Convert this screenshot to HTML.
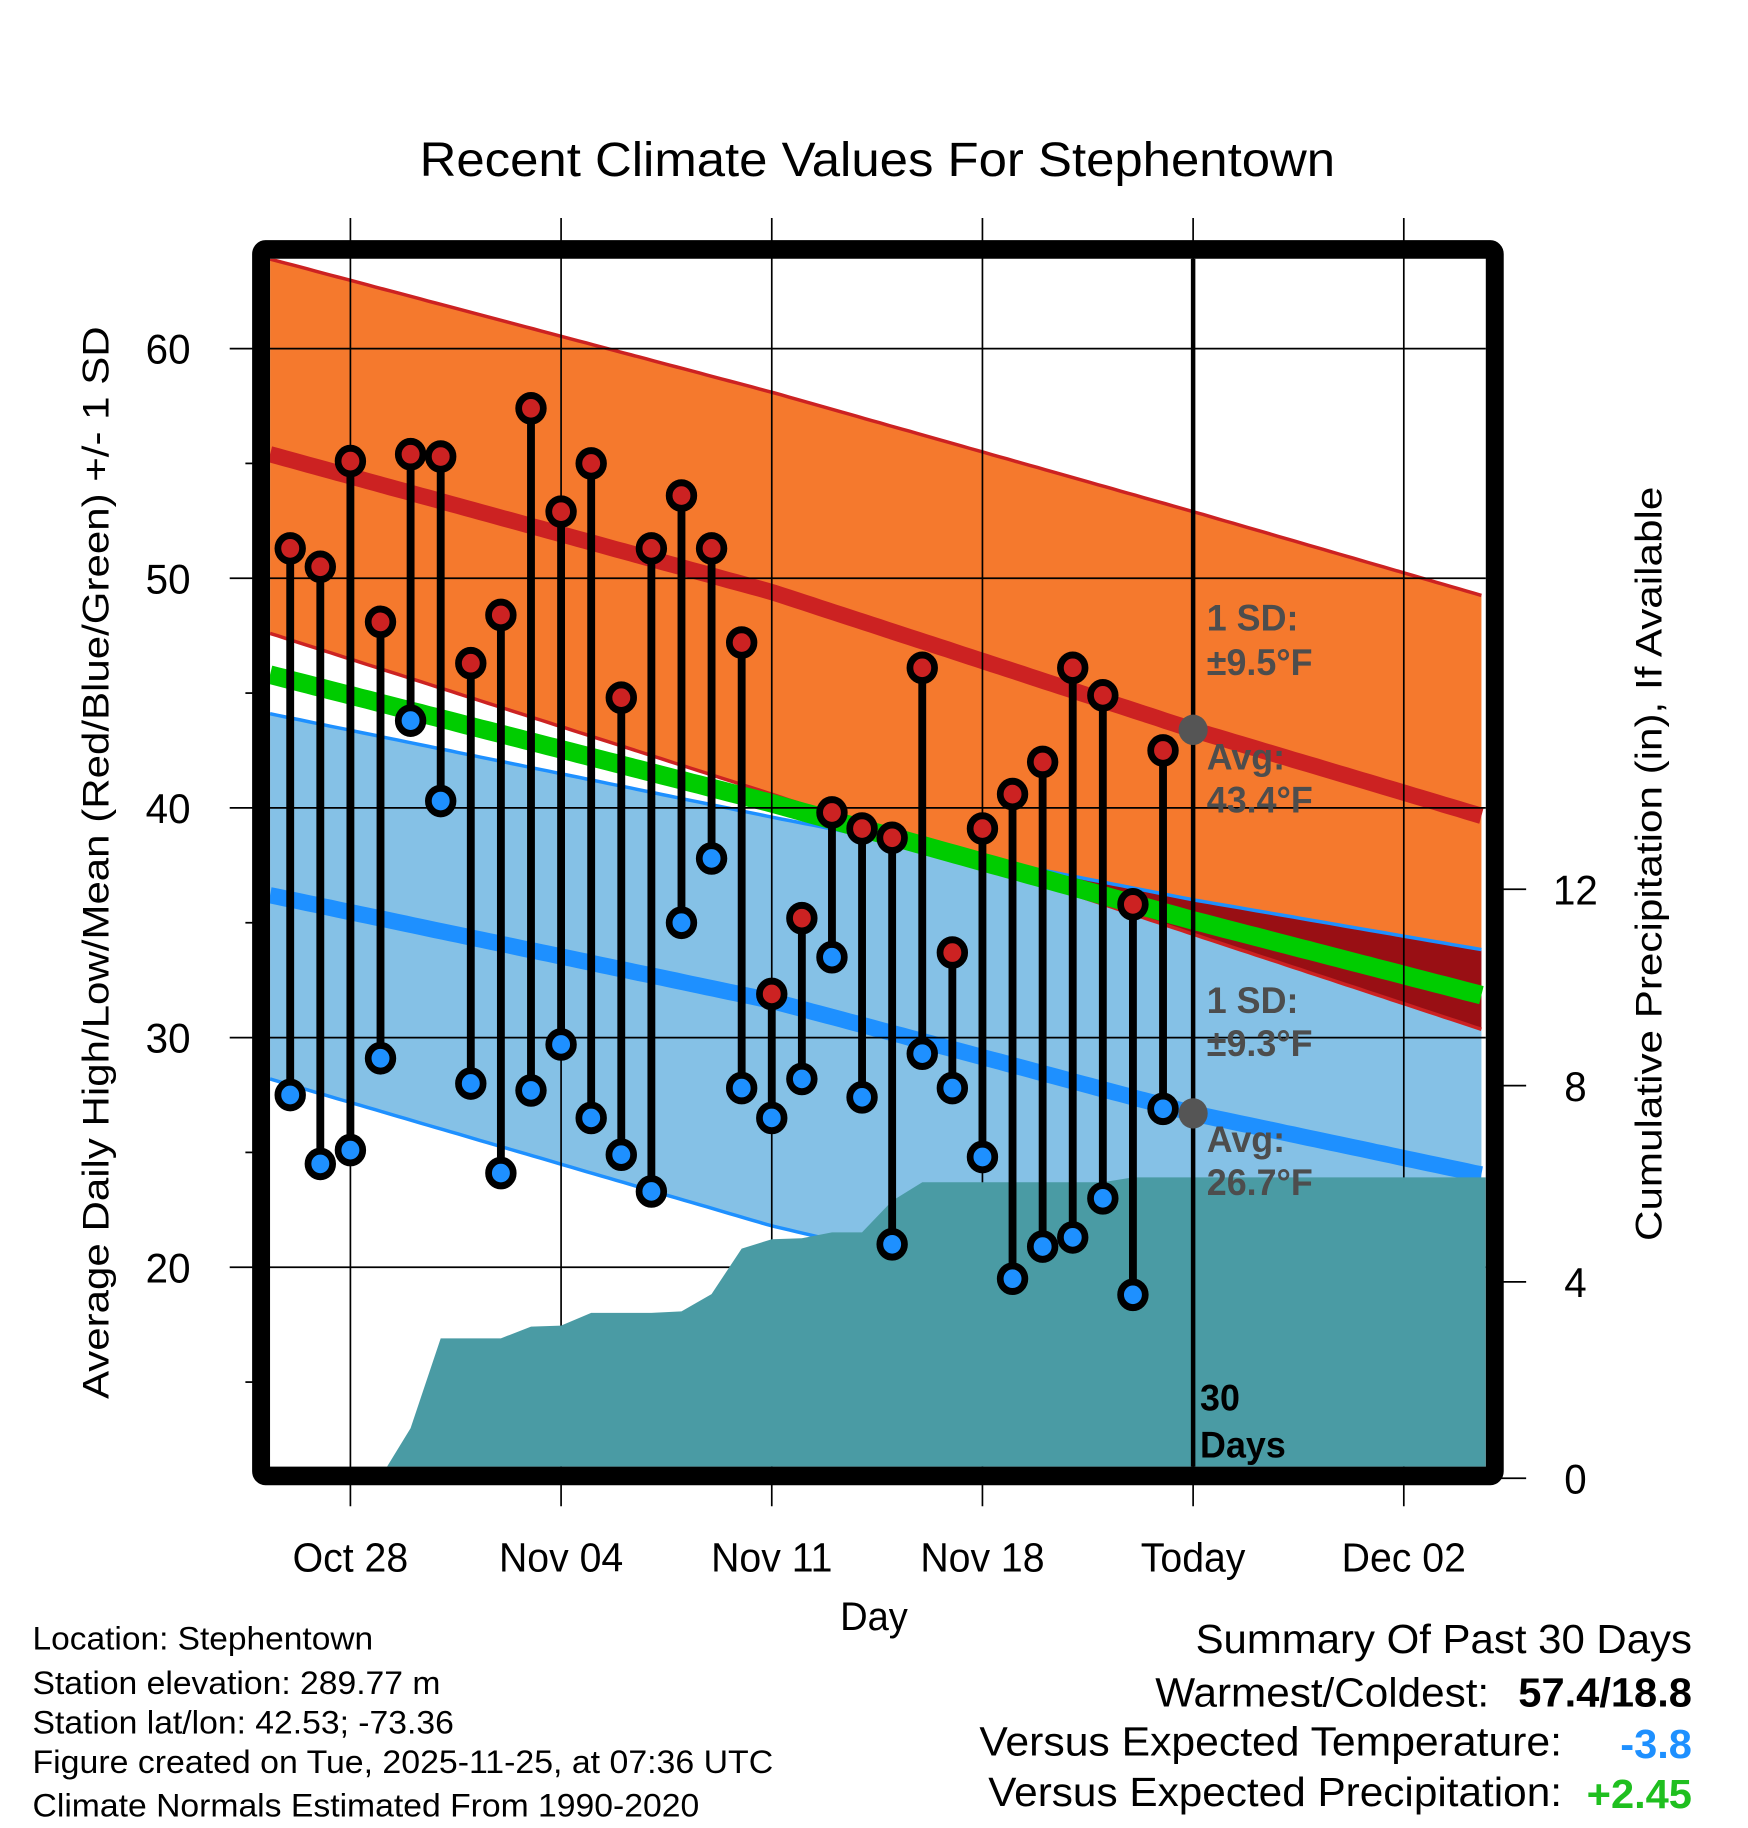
<!DOCTYPE html>
<html><head><meta charset="utf-8"><style>
html,body{margin:0;padding:0;background:#fff}
svg{display:block}
text{font-family:"Liberation Sans",sans-serif}
</style></head><body>
<svg id="chart" width="1748" height="1828" viewBox="0 0 1560 1568" preserveAspectRatio="none" xmlns="http://www.w3.org/2000/svg">
<defs><clipPath id="plotclip"><rect x="241" y="222" width="1085" height="1036"/></clipPath></defs>
<g id="bands" clip-path="url(#plotclip)"></g>
<g id="grid"></g>
<g id="precip" clip-path="url(#plotclip)"></g>
<g id="marks" clip-path="url(#plotclip)"></g>
<g id="ann"></g>
<rect x="233" y="214" width="1101" height="1052" fill="none" stroke="#000" stroke-width="16" rx="4"/>
<text x="783" y="151" font-size="41" text-anchor="middle" textLength="817" lengthAdjust="spacingAndGlyphs">Recent Climate Values For Stephentown</text>
<text transform="translate(97,740) rotate(-90)" font-size="33" text-anchor="middle" textLength="920" lengthAdjust="spacingAndGlyphs">Average Daily High/Low/Mean (Red/Blue/Green) +/- 1 SD</text>
<text transform="translate(1483,741) rotate(-90)" font-size="33" text-anchor="middle" textLength="647" lengthAdjust="spacingAndGlyphs">Cumulative Precipitation (in), If Available</text>
<text x="780" y="1398" font-size="34" text-anchor="middle">Day</text>
<g font-size="28">
<text x="29" y="1415" textLength="304" lengthAdjust="spacingAndGlyphs">Location: Stephentown</text>
<text x="29" y="1453" textLength="364" lengthAdjust="spacingAndGlyphs">Station elevation: 289.77 m</text>
<text x="29" y="1487" textLength="376" lengthAdjust="spacingAndGlyphs">Station lat/lon: 42.53; -73.36</text>
<text x="29" y="1521" textLength="661" lengthAdjust="spacingAndGlyphs">Figure created on Tue, 2025-11-25, at 07:36 UTC</text>
<text x="29" y="1558" textLength="595" lengthAdjust="spacingAndGlyphs">Climate Normals Estimated From 1990-2020</text>
</g>
<g font-size="35">
<text x="1067" y="1418" textLength="443" lengthAdjust="spacingAndGlyphs">Summary Of Past 30 Days</text>
<text x="1031" y="1464" textLength="298" lengthAdjust="spacingAndGlyphs">Warmest/Coldest:</text>
<text x="1355" y="1464" font-weight="bold" textLength="155" lengthAdjust="spacingAndGlyphs">57.4/18.8</text>
<text x="874" y="1506" textLength="520" lengthAdjust="spacingAndGlyphs">Versus Expected Temperature:</text>
<text x="1446" y="1508" font-weight="bold" fill="#1e90ff" textLength="64" lengthAdjust="spacingAndGlyphs">-3.8</text>
<text x="882" y="1549" textLength="512" lengthAdjust="spacingAndGlyphs">Versus Expected Precipitation:</text>
<text x="1416" y="1551" font-weight="bold" fill="#1fbf1f" textLength="94" lengthAdjust="spacingAndGlyphs">+2.45</text>
</g>
</svg>
<script>
// ---- data ----
const dayLabels = ["Oct 28","Nov 04","Nov 11","Nov 18","Today","Dec 02"];
const dayLabelIdx = [2,9,16,23,30,37];
const highs = [51.3,50.5,55.1,48.1,55.4,55.3,46.3,48.4,57.4,52.9,55.0,44.8,51.3,53.6,51.3,47.2,31.9,35.2,39.8,39.1,38.7,46.1,33.7,39.1,40.6,42.0,46.1,44.9,35.8,42.5];
const lows  = [27.5,24.5,25.1,29.1,43.8,40.3,28.0,24.1,27.7,29.7,26.5,24.9,23.3,35.0,37.8,27.8,26.5,28.2,33.5,27.4,21.0,29.3,27.8,24.8,19.5,20.9,21.3,23.0,18.8,26.9];
const precip = [0,0,0,0.02,1.02,2.85,2.85,2.85,3.09,3.11,3.37,3.37,3.37,3.40,3.75,4.68,4.87,4.89,5.01,5.01,5.65,6.03,6.03,6.03,6.03,6.03,6.03,6.03,6.13,6.13];
const normKnots = [-0.67,16,30,39.72];
const hiUpper = [63.9,58.1,52.9,49.2];
const hiMean  = [55.4,49.4,43.4,39.6];
const hiLower = [47.6,40.6,34.5,30.3];
const loUpper = [44.1,39.6,36.0,33.8];
const loMean  = [36.2,31.6,26.7,24.0];
const loLower = [28.2,21.8,17.5,14.3];
const meanT   = [45.8,40.2,35.1,31.8];
const yTicks = [20,30,40,50,60];
const yMinor = [15,25,35,45,55];
const pTicks = [0,4,8,12];
// ---- scales ----
const X0=241,X1=1326,Y0=222,Y1=1258;
const x = d => 259 + d*26.86;
const y = t => 1087 - (t-20)*19.7;
const yp = p => 1268 - p*42.1;
const NS="http://www.w3.org/2000/svg";
function mk(tag,attrs,parent){const el=document.createElementNS(NS,tag);for(const k in attrs)el.setAttribute(k,attrs[k]);parent.appendChild(el);return el;}
function interp(arr,d){for(let i=0;i<normKnots.length-1;i++){if(d<=normKnots[i+1]||i==normKnots.length-2){const f=(d-normKnots[i])/(normKnots[i+1]-normKnots[i]);return arr[i]+f*(arr[i+1]-arr[i]);}}}
const dmin=normKnots[0],dmax=normKnots[normKnots.length-1];
const samples=[];for(let d=dmin;d<=dmax+1e-6;d+=0.25)samples.push(d);
function pathOf(arr){return samples.map((d,i)=>(i?'L':'M')+x(d).toFixed(1)+','+y(interp(arr,d)).toFixed(1)).join('');}
function bandPath(up,lo){let s=pathOf(up);for(let i=samples.length-1;i>=0;i--)s+='L'+x(samples[i]).toFixed(1)+','+y(interp(lo,samples[i])).toFixed(1);return s+'Z';}
const bands=document.getElementById('bands');
let e;
e=mk('path',{d:bandPath(hiUpper,hiLower),fill:'#f5792d'},bands);


e=mk('path',{d:bandPath(loUpper,loLower),fill:'#85c1e6'},bands);


// overlap
let ovTop='';const ovBot=[];
samples.forEach((d,i)=>{const t=Math.min(interp(hiUpper,d),interp(loUpper,d));const b=Math.max(interp(hiLower,d),interp(loLower,d));const tt=Math.max(t,b);ovTop+=(i?'L':'M')+x(d).toFixed(1)+','+y(tt).toFixed(1);ovBot.push([x(d),y(b)]);});
for(let i=ovBot.length-1;i>=0;i--)ovTop+='L'+ovBot[i][0].toFixed(1)+','+ovBot[i][1].toFixed(1);
e=mk('path',{d:ovTop+'Z',fill:'#990f14'},bands);


[[hiUpper,'#cc2222',3,'high-upper-line'],[hiLower,'#cc2222',3,'high-lower-line'],[loUpper,'#1e90ff',3,'low-upper-line'],[loLower,'#1e90ff',3,'low-lower-line'],[hiMean,'#cc2222',14,'avg-high-line'],[loMean,'#1e90ff',14,'avg-low-line'],[meanT,'#00cc00',16,'avg-mean-line']].forEach(a=>{
 e=mk('path',{d:pathOf(a[0]),fill:'none',stroke:a[1],'stroke-width':a[2]},bands);
 
 
});
// grid
const grid=document.getElementById('grid');
yTicks.forEach(t=>{
 e=mk('line',{x1:205,x2:X1,y1:y(t),y2:y(t),stroke:'#000','stroke-width':1.5},grid);
 
 
 e=mk('text',{x:150,y:y(t)+13,'font-size':36,'text-anchor':'middle'},grid);e.textContent=t;
 
 
});
yMinor.forEach(t=>{e=mk('line',{x1:219,x2:226,y1:y(t),y2:y(t),stroke:'#000','stroke-width':1.5},grid);
 
 });
dayLabelIdx.forEach((d,i)=>{
 e=mk('line',{x1:x(d),x2:x(d),y1:187,y2:1292,stroke:'#000','stroke-width':1.5},grid);
 
 
 e=mk('text',{x:x(d),y:1348,'font-size':35,'text-anchor':'middle'},grid);e.textContent=dayLabels[i];
 
 
});
pTicks.forEach(p=>{
 e=mk('line',{x1:1334,x2:1362,y1:yp(p),y2:yp(p),stroke:'#000','stroke-width':1.5},grid);
 
 
 e=mk('text',{x:1406,y:yp(p)+13,'font-size':36,'text-anchor':'middle'},grid);e.textContent=p;
 
 
});
// precip
const pg=document.getElementById('precip');
let pd='M'+x(0)+','+(Y1+20);
precip.forEach((p,i)=>{pd+='L'+x(i).toFixed(1)+','+yp(p).toFixed(1);});
pd+='L'+X1+','+yp(precip[precip.length-1]).toFixed(1)+'L'+X1+','+(Y1+20)+'Z';
e=mk('path',{d:pd,fill:'#4a9ba4'},pg);


// stems & markers
const mg=document.getElementById('marks');
highs.forEach((h,i)=>{
 e=mk('line',{x1:x(i),x2:x(i),y1:y(h),y2:y(lows[i]),stroke:'#000','stroke-width':7},mg);
 
 
});
highs.forEach((h,i)=>{
 e=mk('circle',{cx:x(i),cy:y(h),r:11,fill:'#cc2222',stroke:'#000','stroke-width':6},mg);
 
 
 e=mk('circle',{cx:x(i),cy:y(lows[i]),r:11,fill:'#1e90ff',stroke:'#000','stroke-width':6},mg);
 
 
});
// today line & annotations
const ag=document.getElementById('ann');
e=mk('line',{x1:x(30),x2:x(30),y1:Y0,y2:Y1,stroke:'#000','stroke-width':4},ag);


e=mk('circle',{cx:x(30),cy:y(interp(hiMean,30)),r:13,fill:'#555'},ag);


e=mk('circle',{cx:x(30),cy:y(interp(loMean,30)),r:13,fill:'#555'},ag);


const notes=[["1 SD:",541,'high-sd-label'],["±9.5°F",579,'high-sd-value'],["Avg:",660,'avg-high-label'],["43.4°F",697,'avg-high-value'],["1 SD:",869,'low-sd-label'],["±9.3°F",906,'low-sd-value'],["Avg:",988,'avg-low-label'],["26.7°F",1025,'avg-low-value']];
notes.forEach(n=>{
 e=mk('text',{x:1077,y:n[1],'font-size':32,'font-weight':'bold',fill:'#4d4d4d'},ag);e.textContent=n[0];
 
 
});
e=mk('text',{x:1071,y:1210,'font-size':32,'font-weight':'bold'},ag);e.textContent='30';


e=mk('text',{x:1071,y:1250,'font-size':32,'font-weight':'bold'},ag);e.textContent='Days';


</script>
</body></html>
